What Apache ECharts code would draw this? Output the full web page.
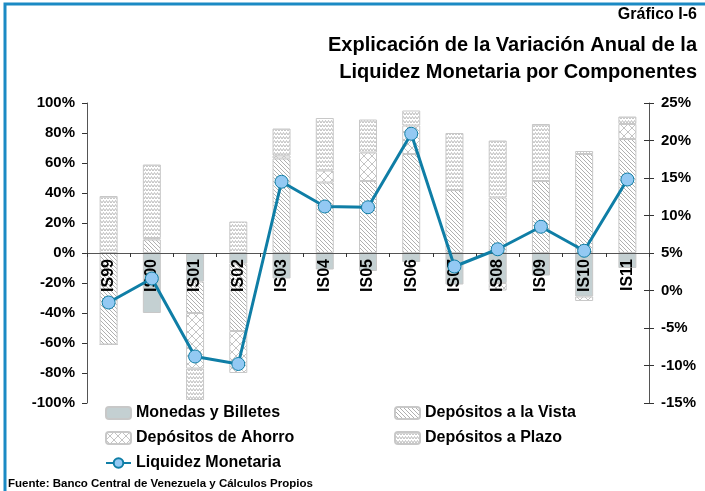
<!DOCTYPE html>
<html>
<head>
<meta charset="utf-8">
<script src="https://cdn.jsdelivr.net/npm/echarts@6/dist/echarts.min.js"></script>
<style>
  html, body { margin: 0; padding: 0; background: #fff; }
  #main { width: 705px; height: 491px; }
</style>
</head>
<body>
<div id="main"></div>
<script>
// categories and values (percent)
var categories = ['IS99', 'IS00', 'IS01', 'IS02', 'IS03', 'IS04', 'IS05', 'IS06', 'IS07', 'IS08', 'IS09', 'IS10', 'IS11'];
var monedas = [0, -40, -19, -7, -17, -11, -12, -6, -21, -20, -15, -29, -10];
var vista   = [-61, 9, -21, -45, 63, 47, 48, 66, 42, 37, 48, 66, 76];
var ahorro  = [0, 1, -37, -28, 2, 8, 19, 19, 0, -5, 0, -3, 10];
var plazo   = [38, 49, -21, 21, 18, 35, 22, 10, 38, 38, 38, 2, 5];
var liquidez = [-1.6, 1.6, -8.8, -9.8, 14.5, 11.2, 11.1, 20.9, 3.2, 5.5, 8.5, 5.3, 14.8];

var leftTicks = { min: -100, max: 100, step: 20 };
var rightTicks = { min: -15, max: 25, step: 5 };

var FONT = 'Liberation Sans, Arial, sans-serif';

// hatch patterns
function makePattern(w, h, draw) {
  var c = document.createElement('canvas');
  c.width = w; c.height = h;
  var ctx = c.getContext('2d');
  ctx.fillStyle = '#ffffff';
  ctx.fillRect(0, 0, w, h);
  draw(ctx);
  return { image: c, repeat: 'repeat' };
}

var vistaFill = makePattern(4, 4, function (ctx) {
  ctx.fillStyle = '#b0b0b0';
  for (var i = 0; i < 4; i++) ctx.fillRect(i, i, 1, 1);
});

var ahorroFill = makePattern(8, 8, function (ctx) {
  ctx.strokeStyle = '#c4c4c4';
  ctx.lineWidth = 1;
  ctx.beginPath();
  ctx.moveTo(0, 0); ctx.lineTo(8, 8);
  ctx.moveTo(8, 0); ctx.lineTo(0, 8);
  ctx.stroke();
});

var plazoFill = makePattern(6, 4, function (ctx) {
  ctx.strokeStyle = '#bdbdbd';
  ctx.lineWidth = 1;
  ctx.beginPath();
  ctx.moveTo(0, 3); ctx.lineTo(1.5, 0.5); ctx.lineTo(3, 3); ctx.lineTo(4.5, 0.5); ctx.lineTo(6, 3);
  ctx.stroke();
});

var chart = echarts.init(document.getElementById('main'));

function barSeries(name, data, fill) {
  return {
    name: name,
    type: 'bar',
    stack: 'comp',
    data: data,
    barWidth: 18,
    itemStyle: { color: fill, borderColor: '#c8c8c8', borderWidth: 1 }
  };
}

var plotTop = 103, plotBottom = 88, plotH = 491 - plotTop - plotBottom;
// left axis zero sits in the middle of the plot: lift the category axis there
var zeroOffset = -plotH * (0 - leftTicks.min) / (leftTicks.max - leftTicks.min);

var option = {
  animation: false,
  textStyle: { fontFamily: FONT },
  title: [
    { text: 'Gráfico I-6', right: 3, top: 2,
      textStyle: { fontSize: 16, fontWeight: 'bold', color: '#000', fontFamily: FONT } },
    { text: 'Explicación de la Variación Anual de la', right: 3, top: 30,
      textStyle: { fontSize: 20, fontWeight: 'bold', color: '#000', fontFamily: FONT } },
    { text: 'Liquidez Monetaria por Componentes', right: 3, top: 57,
      textStyle: { fontSize: 20, fontWeight: 'bold', color: '#000', fontFamily: FONT } },
    { text: 'Fuente: Banco Central de Venezuela y Cálculos Propios', left: 3, top: 473,
      textStyle: { fontSize: 11.5, fontWeight: 'bold', color: '#000', fontFamily: FONT } }
  ],
  graphic: [{
    type: 'rect',
    shape: { x: 5, y: 4, width: 800, height: 600 },
    style: { fill: 'none', stroke: '#1b8ac4', lineWidth: 3 }
  }],
  legend: [
    {
      data: ['Monedas y Billetes', 'Depósitos de Ahorro', 'Liquidez Monetaria'],
      orient: 'vertical', left: 100, top: 400, itemGap: 9,
      itemWidth: 25, itemHeight: 12,
      textStyle: { fontSize: 16, fontWeight: 'bold', color: '#000', fontFamily: FONT }
    },
    {
      data: ['Depósitos a la Vista', 'Depósitos a Plazo'],
      orient: 'vertical', left: 389, top: 400, itemGap: 9,
      itemWidth: 25, itemHeight: 12,
      textStyle: { fontSize: 16, fontWeight: 'bold', color: '#000', fontFamily: FONT }
    }
  ],
  grid: { left: 87, right: 56, top: plotTop, bottom: plotBottom },
  xAxis: {
    type: 'category',
    data: categories,
    offset: zeroOffset,
    z: 3,
    axisLine: { onZero: false, lineStyle: { color: '#555', width: 1 } },
    axisTick: { show: true, length: 4, lineStyle: { color: '#333' } },
    axisLabel: { rotate: 90, margin: 6, fontSize: 16, fontWeight: 'bold', color: '#000', fontFamily: FONT }
  },
  yAxis: [
    {
      type: 'value', position: 'left',
      min: leftTicks.min, max: leftTicks.max, interval: leftTicks.step,
      splitLine: { show: false },
      axisLine: { show: true, lineStyle: { color: '#555' } },
      axisTick: { show: true, length: 5, lineStyle: { color: '#333' } },
      axisLabel: { formatter: '{value}%', fontSize: 15, fontWeight: 'bold', color: '#000', margin: 12, fontFamily: FONT }
    },
    {
      type: 'value', position: 'right',
      min: rightTicks.min, max: rightTicks.max, interval: rightTicks.step,
      splitLine: { show: false },
      axisLine: { show: true, lineStyle: { color: '#555' } },
      axisTick: { show: true, length: 5, lineStyle: { color: '#333' } },
      axisLabel: { formatter: '{value}%', fontSize: 15, fontWeight: 'bold', color: '#000', margin: 12, fontFamily: FONT }
    },
    {
      // inner half of the right-axis cross ticks
      type: 'value', position: 'right',
      min: rightTicks.min, max: rightTicks.max, interval: rightTicks.step,
      splitLine: { show: false },
      axisLine: { show: false },
      axisTick: { show: true, inside: true, length: 5, lineStyle: { color: '#333' } },
      axisLabel: { show: false }
    }
  ],
  series: [
    barSeries('Monedas y Billetes', monedas, '#c4d0d2'),
    barSeries('Depósitos a la Vista', vista, vistaFill),
    barSeries('Depósitos de Ahorro', ahorro, ahorroFill),
    barSeries('Depósitos a Plazo', plazo, plazoFill),
    {
      name: 'Liquidez Monetaria',
      type: 'line',
      yAxisIndex: 1,
      data: liquidez,
      symbol: 'circle',
      symbolSize: 13,
      z: 5,
      lineStyle: { color: '#0f7ea6', width: 3 },
      itemStyle: { color: '#93c9f3', borderColor: '#0f7ea6', borderWidth: 1 }
    }
  ]
};

chart.setOption(option);
</script>
</body>
</html>
